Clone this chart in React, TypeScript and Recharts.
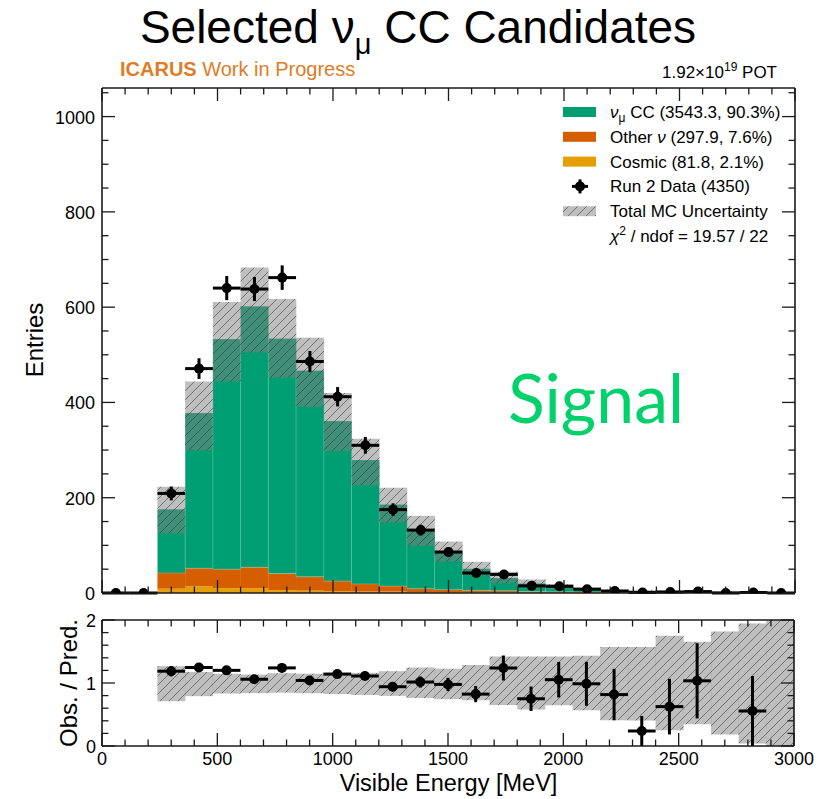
import {
	ComposedChart,
	Bar,
	Scatter,
	ErrorBar,
	XAxis,
	YAxis,
	Legend,
} from 'recharts'

const FONT = '"Liberation Sans", Arial, Helvetica, sans-serif'

// lower edges of the 120 MeV bins
const binLow = [
	0, 120, 240, 360, 480, 600, 720, 840, 960, 1080, 1200, 1320, 1440, 1560,
	1680, 1800, 1920, 2040, 2160, 2280, 2400, 2520, 2640, 2760, 2880,
]
const BIN = 120

// MC stack, entries per bin
const numuCC = [
	0, 0, 134, 326, 483, 548, 493, 433, 336, 260, 171.5, 121, 81, 45.5, 27, 17,
	10.8, 6.1, 3.1, 2.6, 1.7, 1.5, 0.9, 1.0, 0.3,
]
const otherNu = [
	0, 0, 33, 38, 40, 44, 35, 29, 21, 16, 11.5, 7, 5, 4, 3, 2, 1.5, 1, 0.8, 0.6,
	0.5, 0.4, 0.3, 0.3, 0.2,
]
const cosmic = [
	0, 0, 9, 14, 10, 10, 6, 5, 4, 3, 3, 2, 2, 1.5, 1.5, 1, 1, 1, 1, 1, 1, 1, 1,
	0.5, 0.5,
]
// total MC uncertainty band (low / high edge)
const mcLow = [
	0, 0, 125, 299, 444, 505, 452, 391, 298, 226, 148, 99, 65.5, 37, 20.5, 11.6,
	8.6, 4.6, 2.0, 1.7, 0.8, 1.0, 0.4, 0.07, 0,
]
const mcHigh = [
	0, 0, 223, 444, 611, 683, 617, 536, 420, 324, 221, 162, 108, 65.5, 44.7, 28.4,
	18.9, 11.6, 7.7, 6.6, 5.6, 4.8, 4.0, 3.5, 2.0,
]
// Run 2 data counts
const run2Data = [
	0, 0, 209, 471, 640, 638, 662, 486, 412, 310, 175, 132, 86, 42, 39, 15, 14, 8,
	4, 1, 2, 3, 0, 1, 0,
]

const xMajor = [0, 500, 1000, 1500, 2000, 2500, 3000]
const entriesMajor = [0, 200, 400, 600, 800, 1000]
const ratioMajor = [0, 1, 2]
const xTicks = Array.from({ length: 31 }, (_, i) => i * 100)
const entryTicks = Array.from({ length: 22 }, (_, i) => i * 50)
const ratioTicks = Array.from({ length: 11 }, (_, i) => +(i * 0.2).toFixed(1))

const GREEN = '#009E73'
const ORANGE = '#D55E00'
const YELLOW = '#E69F00'
const INK = '#1a1a1a'

const histRows = binLow.map((lo, i) => {
	const total = numuCC[i] + otherNu[i] + cosmic[i]
	return {
		x: lo + BIN / 2,
		cosmic: cosmic[i],
		other: otherNu[i],
		numu: numuCC[i],
		band: [mcLow[i], mcHigh[i]],
		ratioBand: total > 0 ? [mcLow[i] / total, mcHigh[i] / total] : [0, 0],
	}
})

const dataPoints = binLow.map((lo, i) => ({
	x: lo + BIN / 2,
	y: run2Data[i],
	xerr: BIN / 2,
	yerr: Math.sqrt(run2Data[i]),
}))

const ratioPoints = binLow
	.map((lo, i) => {
		const total = numuCC[i] + otherNu[i] + cosmic[i]
		return {
			x: lo + BIN / 2,
			y: total > 0 ? run2Data[i] / total : 0,
			xerr: BIN / 2,
			yerr: total > 0 ? Math.sqrt(run2Data[i]) / total : 0,
			keep: total > 0 && run2Data[i] > 0,
		}
	})
	.filter((p) => p.keep)

type Side = 'bottom' | 'top' | 'left' | 'right'

// ROOT style ticks: drawn inside the frame, long for majors
function frameTick(side: Side, majors: number[], labels: boolean, labelDx = 7) {
	return (props: any) => {
		const { x, y, payload } = props
		const v = payload.value
		const isMajor = majors.some((m) => Math.abs(m - v) < 1e-6)
		const len = isMajor ? 13 : 6.5
		const dx = side === 'left' ? len : side === 'right' ? -len : 0
		const dy = side === 'bottom' ? -len : side === 'top' ? len : 0
		return (
			<g>
				<line x1={x} y1={y} x2={x + dx} y2={y + dy} stroke={INK} strokeWidth={1.3} />
				{labels && isMajor && side === 'bottom' && (
					<text x={x} y={y + 19} textAnchor="middle" fontSize={18} fontFamily={FONT} fill="#000">
						{v}
					</text>
				)}
				{labels && isMajor && side === 'left' && (
					<text x={x - labelDx} y={y + 7} textAnchor="end" fontSize={18} fontFamily={FONT} fill="#000">
						{v}
					</text>
				)}
			</g>
		)
	}
}

const frameLine = { stroke: INK, strokeWidth: 1.6 }

const dot = (p: any) => <circle cx={p.cx} cy={p.cy} r={5} fill="#000" />

function HatchDefs({ id }: { id: string }) {
	return (
		<defs>
			<pattern id={id} patternUnits="userSpaceOnUse" width={9} height={9}>
				<rect width={9} height={9} fill="#808080" fillOpacity={0.5} />
				<path
					d="M-1,1 l2,-2 M0,9 l9,-9 M8,10 l2,-2"
					stroke="#333"
					strokeOpacity={0.55}
					strokeWidth={1}
				/>
			</pattern>
		</defs>
	)
}

function LegendBox() {
	const rowY = (i: number) => 16 + 24.8 * i
	const tx = 57
	const text = { fontSize: 17, fontFamily: FONT, fill: '#000' }
	return (
		<svg width={250} height={160}>
			<HatchDefs id="legendHatch" />
			<rect x={10} y={rowY(0) - 5} width={33} height={10} fill={GREEN} />
			<text x={tx} y={rowY(0) + 6} {...text}>
				<tspan fontStyle="italic">ν</tspan>
				<tspan fontSize={12} dy={4}>μ</tspan>
				<tspan dy={-4}> CC (3543.3, 90.3%)</tspan>
			</text>
			<rect x={10} y={rowY(1) - 5} width={33} height={10} fill={ORANGE} />
			<text x={tx} y={rowY(1) + 6} {...text}>
				Other <tspan fontStyle="italic">ν</tspan> (297.9, 7.6%)
			</text>
			<rect x={10} y={rowY(2) - 5} width={33} height={10} fill={YELLOW} />
			<text x={tx} y={rowY(2) + 6} {...text}>
				Cosmic (81.8, 2.1%)
			</text>
			<line x1={19} x2={35} y1={rowY(3)} y2={rowY(3)} stroke="#000" strokeWidth={3} />
			<line x1={27} x2={27} y1={rowY(3) - 7} y2={rowY(3) + 7} stroke="#000" strokeWidth={3} />
			<circle cx={27} cy={rowY(3)} r={5} fill="#000" />
			<text x={tx} y={rowY(3) + 6} {...text}>
				Run 2 Data (4350)
			</text>
			<rect x={10} y={rowY(4) - 5} width={33} height={10} fill="url(#legendHatch)" />
			<text x={tx} y={rowY(4) + 6} {...text}>
				Total MC Uncertainty
			</text>
			<text x={tx} y={rowY(5) + 6} {...text}>
				<tspan fontStyle="italic">χ</tspan>
				<tspan fontSize={12} dy={-7}>2</tspan>
				<tspan dy={7}> / ndof = 19.57 / 22</tspan>
			</text>
		</svg>
	)
}

export default function App() {
	return (
		<div
			style={{
				position: 'absolute',
				left: 0,
				top: 0,
				width: 834,
				height: 799,
				background: '#fff',
				fontFamily: FONT,
			}}
		>
			{/* ratio panel (drawn first so the main panel's bottom labels stay on top) */}
			<div style={{ position: 'absolute', left: 0, top: 600 }}>
				<ComposedChart
					width={834}
					height={199}
					data={histRows}
					margin={{ top: 0, right: 10, bottom: 23, left: 42 }}
					barCategoryGap={0}
					barGap={0}
				>
					<HatchDefs id="ratioHatch" />
					<XAxis
						xAxisId="bottom"
						dataKey="x"
						type="number"
						domain={[0, 3000]}
						ticks={xTicks}
						interval={0}
						height={30}
						tickSize={0}
						tickMargin={0}
						tickLine={false}
						axisLine={frameLine}
						tick={frameTick('bottom', xMajor, true)}
						allowDataOverflow
					/>
					<XAxis
						xAxisId="top"
						orientation="top"
						dataKey="x"
						type="number"
						domain={[0, 3000]}
						ticks={xTicks}
						interval={0}
						height={20}
						tickSize={0}
						tickMargin={0}
						tickLine={false}
						axisLine={frameLine}
						tick={frameTick('top', xMajor, false)}
						allowDataOverflow
					/>
					<YAxis
						yAxisId="left"
						type="number"
						domain={[0, 2]}
						ticks={ratioTicks}
						interval={0}
						width={60}
						tickSize={0}
						tickMargin={0}
						tickLine={false}
						axisLine={frameLine}
						tick={frameTick('left', ratioMajor, true, 6)}
						allowDataOverflow
					/>
					<YAxis
						yAxisId="right"
						orientation="right"
						type="number"
						domain={[0, 2]}
						ticks={ratioTicks}
						interval={0}
						width={30}
						tickSize={0}
						tickMargin={0}
						tickLine={false}
						axisLine={frameLine}
						tick={frameTick('right', ratioMajor, false)}
						allowDataOverflow
					/>
					<Bar xAxisId="top" yAxisId="left" dataKey="ratioBand" fill="url(#ratioHatch)" isAnimationActive={false} />
					<Scatter
						xAxisId="bottom"
						yAxisId="left"
						data={ratioPoints}
						dataKey="y"
						shape={dot}
						isAnimationActive={false}
					>
						<ErrorBar dataKey="xerr" direction="x" width={0} strokeWidth={3} stroke="#000" />
						<ErrorBar dataKey="yerr" direction="y" width={0} strokeWidth={3} stroke="#000" />
					</Scatter>
				</ComposedChart>
			</div>

			{/* main panel */}
			<div style={{ position: 'absolute', left: 0, top: 0 }}>
				<ComposedChart
					width={834}
					height={606}
					data={histRows}
					margin={{ top: 58, right: 9, bottom: 0, left: 42 }}
					barCategoryGap={0}
					barGap={0}
				>
					<HatchDefs id="mcHatch" />
					<XAxis
						xAxisId="bottom"
						dataKey="x"
						type="number"
						domain={[0, 3000]}
						ticks={xTicks}
						interval={0}
						height={13}
						tickSize={0}
						tickMargin={0}
						tickLine={false}
						axisLine={frameLine}
						tick={frameTick('bottom', xMajor, false)}
						allowDataOverflow
					/>
					<XAxis
						xAxisId="top"
						orientation="top"
						dataKey="x"
						type="number"
						domain={[0, 3000]}
						ticks={xTicks}
						interval={0}
						height={30}
						tickSize={0}
						tickMargin={0}
						tickLine={false}
						axisLine={frameLine}
						tick={frameTick('top', xMajor, false)}
						allowDataOverflow
					/>
					<YAxis
						yAxisId="left"
						type="number"
						domain={[0, 1060]}
						ticks={entryTicks}
						interval={0}
						width={60}
						tickSize={0}
						tickMargin={0}
						tickLine={false}
						axisLine={frameLine}
						tick={frameTick('left', entriesMajor, true)}
						allowDataOverflow
					/>
					<YAxis
						yAxisId="right"
						orientation="right"
						type="number"
						domain={[0, 1060]}
						ticks={entryTicks}
						interval={0}
						width={30}
						tickSize={0}
						tickMargin={0}
						tickLine={false}
						axisLine={frameLine}
						tick={frameTick('right', entriesMajor, false)}
						allowDataOverflow
					/>
					<Bar xAxisId="bottom" yAxisId="left" dataKey="cosmic" stackId="mc" fill={YELLOW} isAnimationActive={false} />
					<Bar xAxisId="bottom" yAxisId="left" dataKey="other" stackId="mc" fill={ORANGE} isAnimationActive={false} />
					<Bar
						xAxisId="bottom"
						yAxisId="left"
						dataKey="numu"
						stackId="mc"
						fill={GREEN}
						stroke="#ffffff"
						strokeOpacity={0.25}
						strokeWidth={0.8}
						isAnimationActive={false}
					/>
					<Bar xAxisId="top" yAxisId="left" dataKey="band" fill="url(#mcHatch)" isAnimationActive={false} />
					<Scatter
						xAxisId="bottom"
						yAxisId="left"
						data={dataPoints}
						dataKey="y"
						shape={dot}
						isAnimationActive={false}
					>
						<ErrorBar dataKey="xerr" direction="x" width={0} strokeWidth={3} stroke="#000" />
						<ErrorBar dataKey="yerr" direction="y" width={0} strokeWidth={3} stroke="#000" />
					</Scatter>
					<Legend
						layout="vertical"
						align="center"
						verticalAlign="middle"
						content={() => <LegendBox />}
						wrapperStyle={{ left: 553, top: 96, width: 250, height: 160 }}
					/>
				</ComposedChart>
			</div>

			{/* titles and annotations */}
			<svg
				width={834}
				height={799}
				style={{ position: 'absolute', left: 0, top: 0, pointerEvents: 'none' }}
			>
				<text x={418} y={43} textAnchor="middle" fontSize={46} fontFamily={FONT} fill="#000">
					Selected ν<tspan fontSize={29} dy={11}>μ</tspan>
					<tspan dy={-11}> CC Candidates</tspan>
				</text>
				<text x={120} y={75.5} fontSize={20} fontFamily={FONT} fill="#DE7D25">
					<tspan fontWeight="bold">ICARUS</tspan> Work in Progress
				</text>
				<text x={777} y={78} textAnchor="end" fontSize={17} fontFamily={FONT} fill="#000">
					1.92×10<tspan fontSize={12} dy={-7}>19</tspan>
					<tspan dy={7}> POT</tspan>
				</text>
				<text x={596} y={423} textAnchor="middle" fontSize={68} fontFamily="Lato, 'Open Sans', sans-serif" fill="#00D16B">
					Signal
				</text>
				<text
					x={43}
					y={340}
					transform="rotate(-90 43 340)"
					textAnchor="middle"
					fontSize={24}
					fontFamily={FONT}
					fill="#000"
				>
					Entries
				</text>
				<text
					x={77}
					y={683}
					transform="rotate(-90 77 683)"
					textAnchor="middle"
					fontSize={24}
					fontFamily={FONT}
					fill="#000"
				>
					Obs. / Pred.
				</text>
				<text x={448.5} y={791} textAnchor="middle" fontSize={23.5} fontFamily={FONT} fill="#000">
					Visible Energy [MeV]
				</text>
			</svg>
		</div>
	)
}
